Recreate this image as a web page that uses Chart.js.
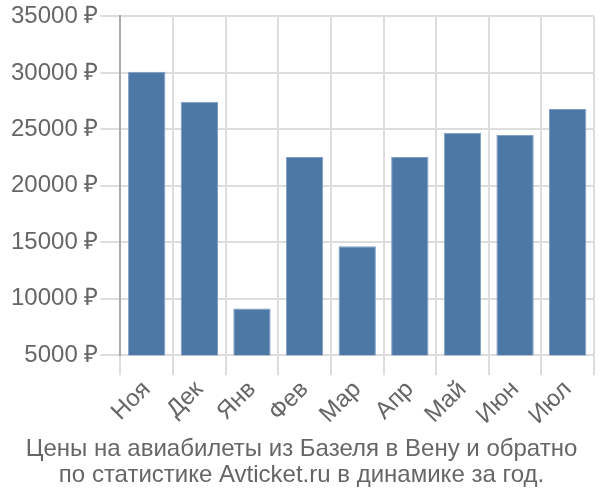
<!DOCTYPE html>
<html>
<head>
<meta charset="utf-8">
<script src="https://cdn.jsdelivr.net/npm/chart.js@4"></script>
<style>
  html, body { margin: 0; padding: 0; background: #fff; }
  #wrap { width: 600px; height: 500px; }
</style>
</head>
<body>
<div id="wrap"><canvas id="chart" width="600" height="500"></canvas></div>
<script>
var months = ['Ноя', 'Дек', 'Янв', 'Фев', 'Мар', 'Апр', 'Май', 'Июн', 'Июл'];
var prices = [30100, 27450, 9150, 22550, 14650, 22550, 24700, 24500, 26800];
var yMin = 5000;
var yMax = 35000;
var yStep = 5000;
var titleLines = ['Цены на авиабилеты из Базеля в Вену и обратно', 'по статистике Avticket.ru в динамике за год.'];

var fontFamily = 'Liberation Sans, Arial, sans-serif';
var ctx = document.getElementById('chart').getContext('2d');
new Chart(ctx, {
    type: 'bar',
    data: {
        labels: months,
        datasets: [{
            data: prices,
            backgroundColor: '#4d78a6',
            borderColor: '#7f9fc4',
            borderWidth: 1,
            barPercentage: 0.71,
            categoryPercentage: 1
        }]
    },
    options: {
        responsive: false,
        animation: false,
        layout: { padding: { top: -2, right: 6, left: 9, bottom: 12 } },
        plugins: {
            legend: { display: false },
            tooltip: { enabled: false },
            title: {
                display: true,
                position: 'bottom',
                text: titleLines,
                color: '#666',
                font: { family: fontFamily, size: 24, weight: 'normal', lineHeight: 1.08 },
                padding: { top: 6, bottom: 0 }
            }
        },
        scales: {
            x: {
                grid: { color: '#dddddd', lineWidth: 2, offset: true, tickLength: 20 },
                border: { color: '#dddddd', width: 2 },
                ticks: {
                    color: '#666',
                    font: { family: fontFamily, size: 24 },
                    maxRotation: 45,
                    minRotation: 45,
                    padding: 0
                }
            },
            y: {
                min: yMin,
                max: yMax,
                grid: { color: '#dddddd', lineWidth: 2, tickLength: 20 },
                border: { color: '#aaaaaa', width: 2 },
                ticks: {
                    stepSize: yStep,
                    color: '#666',
                    padding: 2,
                    font: { family: fontFamily, size: 24 },
                    callback: function(v){ return v + ' ₽'; }
                }
            }
        }
    }
});
</script>
</body>
</html>
